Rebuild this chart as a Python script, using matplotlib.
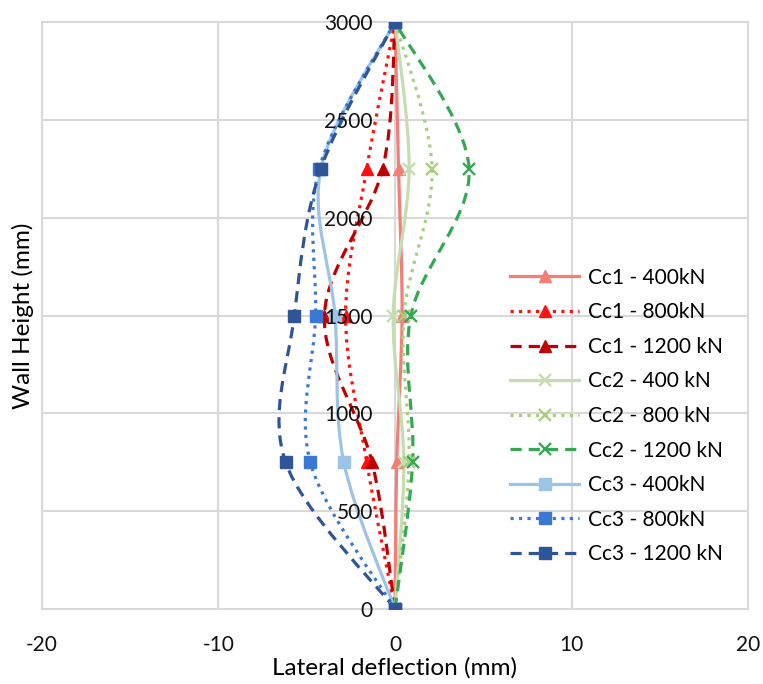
import matplotlib
matplotlib.use("Agg")
import matplotlib.pyplot as plt
from matplotlib.path import Path
from matplotlib.patches import PathPatch
from matplotlib.lines import Line2D

plt.rcParams["font.family"] = ["Lato", "DejaVu Sans"]
plt.rcParams["axes.unicode_minus"] = False

# Wall height positions of the measuring points (mm)
heights = [0, 750, 1500, 2250, 3000]

# Lateral deflection (mm) at each height
cc1_400 = [0, 0.1, 0.4, 0.2, 0]
cc1_800 = [0, -1.6, -2.8, -1.6, 0]
cc1_1200 = [0, -1.3, -4.0, -0.7, 0]
cc2_400 = [0, 0.5, -0.1, 0.8, 0]
cc2_800 = [0, 0.8, 0.5, 2.1, 0]
cc2_1200 = [0, 1.0, 0.9, 4.2, 0]
cc3_400 = [0, -2.9, -3.4, -4.2, 0]
cc3_800 = [0, -4.8, -4.5, -4.3, 0]
cc3_1200 = [0, -6.2, -5.7, -4.2, 0]

labels = ["Cc1 - 400kN", "Cc1 - 800kN", "Cc1 - 1200 kN",
          "Cc2 - 400 kN", "Cc2 - 800 kN", "Cc2 - 1200 kN",
          "Cc3 - 400kN", "Cc3 - 800kN", "Cc3 - 1200 kN"]

x_ticks = [-20, -10, 0, 10, 20]
y_ticks = [0, 500, 1000, 1500, 2000, 2500, 3000]

dash = (0, (3.5, 2.2))
# (data, colour, line style, marker)
series = [
    (cc1_400, "#F47E76", "-", "^"),
    (cc1_800, "#FF1010", ":", "^"),
    (cc1_1200, "#C00000", dash, "^"),
    (cc2_400, "#C5DDB0", "-", "x"),
    (cc2_800, "#A9CF7E", ":", "x"),
    (cc2_1200, "#34A853", dash, "x"),
    (cc3_400, "#9DC3E6", "-", "s"),
    (cc3_800, "#3A78D4", ":", "s"),
    (cc3_1200, "#2F5597", dash, "s"),
]


def smooth_path(xs, ys):
    # Excel-style smoothed line: cubic bezier through the points
    pts = list(zip(xs, ys))
    n = len(pts)
    verts = [pts[0]]
    codes = [Path.MOVETO]
    for i in range(n - 1):
        p0 = pts[i - 1] if i > 0 else pts[i]
        p1 = pts[i]
        p2 = pts[i + 1]
        p3 = pts[i + 2] if i + 2 < n else pts[i + 1]
        c1 = (p1[0] + (p2[0] - p0[0]) / 6, p1[1] + (p2[1] - p0[1]) / 6)
        c2 = (p2[0] - (p3[0] - p1[0]) / 6, p2[1] - (p3[1] - p1[1]) / 6)
        verts += [c1, c2, p2]
        codes += [Path.CURVE4] * 3
    return Path(verts, codes)


fig = plt.figure(figsize=(7.63, 6.84), dpi=100)
ax = fig.add_axes([42 / 763, 1 - 609 / 684, 706 / 763, 587 / 684])

grid_color = "#D9D9D9"
for xv in x_ticks:
    ax.axvline(xv, color=grid_color, lw=1.5, zorder=0.5, clip_on=False)
for yv in y_ticks:
    ax.axhline(yv, color=grid_color, lw=1.5, zorder=0.5, clip_on=False)

handles = []
for (vals, color, ls, mk), lab in zip(series, labels):
    patch = PathPatch(smooth_path(vals, heights), fill=False, edgecolor=color,
                      lw=2.3, linestyle=ls, zorder=2)
    ax.add_patch(patch)
    mew = 1.7 if mk == "x" else 1.0
    ms = 9
    ax.plot(vals, heights, linestyle="none", marker=mk, color=color,
            markersize=ms, markeredgewidth=mew, zorder=2.2)
    handles.append(Line2D([], [], color=color, lw=2.3, linestyle=ls,
                          marker=mk, markersize=ms, markeredgewidth=mew,
                          label=lab))

ax.set_xlim(-20, 20)
ax.set_ylim(0, 3000)
ax.set_xticks(x_ticks)
ax.set_yticks(y_ticks)
ax.set_axisbelow(False)

for side in ["top", "right", "bottom"]:
    ax.spines[side].set_visible(False)
ax.spines["left"].set_position(("data", 0))
ax.spines["left"].set_visible(False)

ax.tick_params(axis="both", length=0, labelsize=15, colors="#111111")
ax.tick_params(axis="x", pad=19)
ax.tick_params(axis="y", pad=16)

ax.set_xlabel("Lateral deflection (mm)", fontsize=17.5, labelpad=1)
ax.set_ylabel("Wall Height (mm)", fontsize=17.5)
ax.yaxis.set_label_coords(-0.012, 0.5)

ax.legend(handles=handles, loc="center left",
          bbox_to_anchor=(500 / 763, 1 - 416 / 684),
          bbox_transform=fig.transFigure, frameon=False, fontsize=15,
          handlelength=3.3, handletextpad=0.4, labelspacing=0.70,
          borderpad=0, numpoints=1)

fig.savefig("out.png", dpi=100)
